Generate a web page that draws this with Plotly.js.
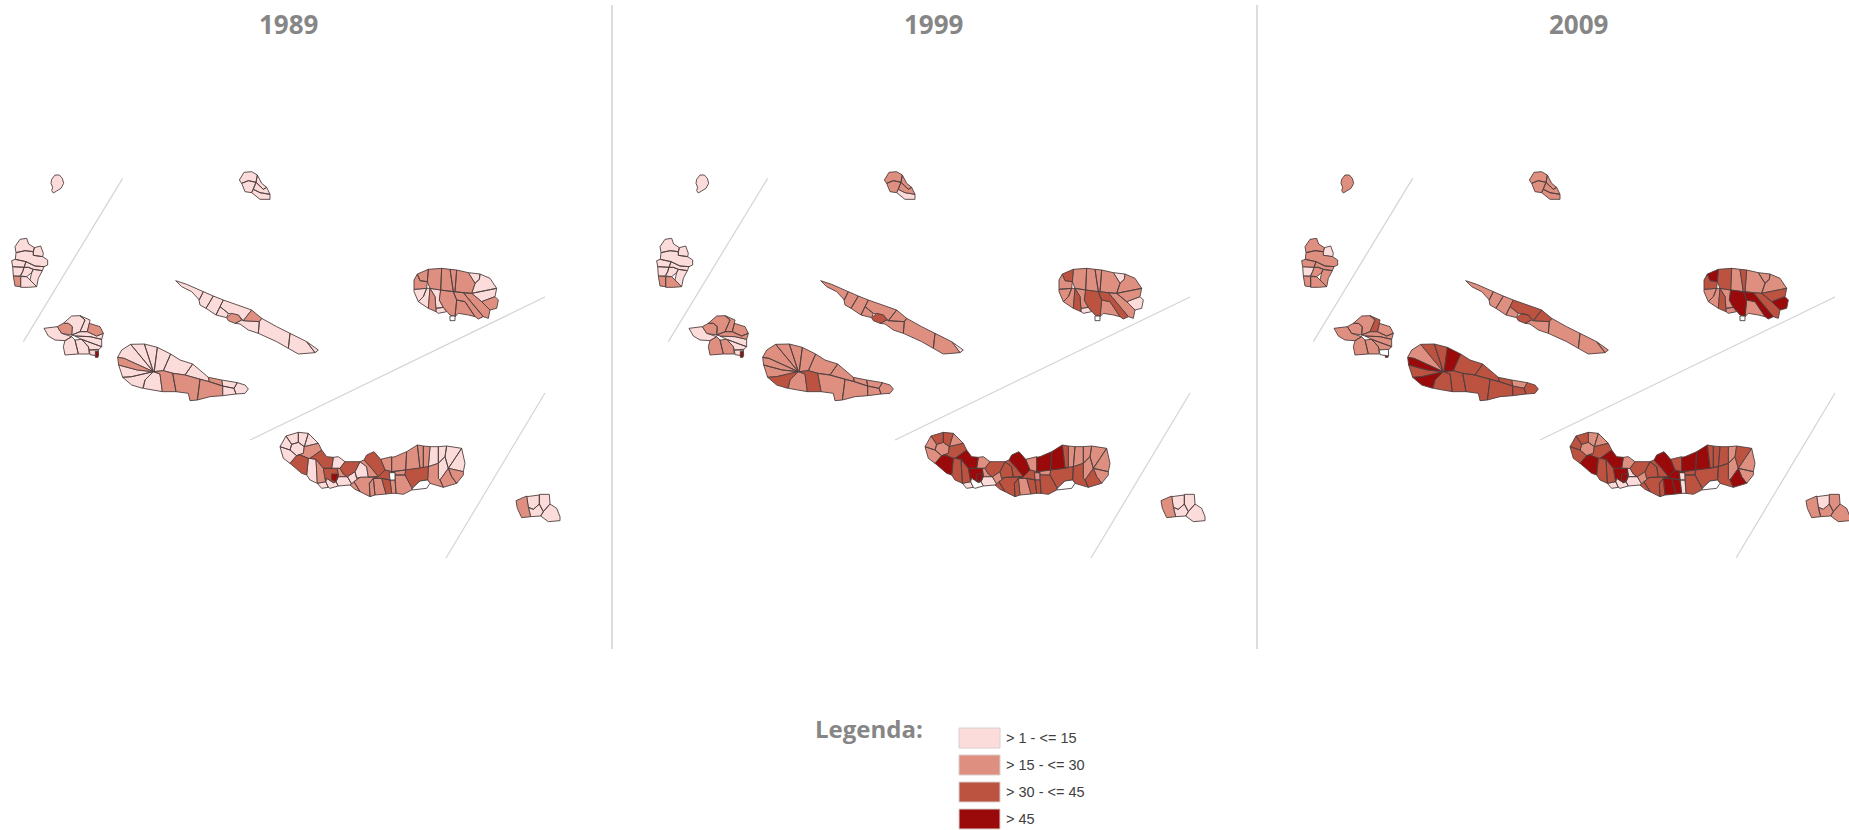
<!DOCTYPE html>
<html>
<head>
<meta charset="utf-8">
<script src="https://cdn.plot.ly/plotly-3.0.1.min.js"></script>
<style>html,body{margin:0;padding:0;background:#fff}#chart{width:1849px;height:830px}</style>
</head>
<body>
<div id="chart"></div>
<script>
// ---------- DATA ----------
const years = ['1989','1999','2009'];
const legendTitle = 'Legenda:';
const classLabels = ['> 1 - <= 15','> 15 - <= 30','> 30 - <= 45','> 45','sem dados'];
const classColors = ['#FBDCDA','#DF8F7F','#BB5340','#9A0A0A','#FFFFFF'];

// Map coordinates, per island group
const westOrigin = [0,450];
const terceiraOrigin = [1200,750];
const eastOrigin = [780,1200];

const corvoParishes = [
 [[155,88],[165,75],[178,75],[187,85],[191,100],[183,115],[170,123],[160,129],[155,122],[158,112],[153,100]]
];
const corvoClasses = [[0],[0],[1]];

const floresParishes = [
 [[45,290],[60,268],[80,265],[86,282],[103,293],[100,305],[75,302],[48,308]],
 [[103,293],[122,288],[130,310],[128,320],[100,316],[100,305]],
 [[48,308],[75,302],[100,305],[100,316],[128,320],[143,330],[143,345],[132,350],[105,348],[78,335],[46,328]],
 [[46,328],[78,335],[72,352],[38,350],[35,332]],
 [[78,335],[105,348],[132,350],[127,362],[100,358],[85,352],[72,352]],
 [[38,350],[72,352],[68,365],[60,378],[40,378]],
 [[72,352],[85,352],[100,358],[95,368],[80,380],[62,378],[68,365]],
 [[95,368],[100,358],[127,362],[115,385],[110,410],[90,390]],
 [[40,378],[62,380],[62,410],[45,408]],
 [[62,380],[80,380],[90,390],[110,410],[85,412],[62,412]]
];
const floresClasses = [
 [0,0,0,0,0,0,0,0,1,0],
 [0,0,0,0,0,0,0,0,1,1],
 [1,0,1,1,1,0,1,1,1,1]
];

const graciosaParishes = [
 [[718,90],[732,67],[755,65],[772,75],[768,97],[745,92],[725,100]],
 [[725,100],[745,92],[768,97],[760,118],[755,128],[735,125],[728,108]],
 [[772,75],[785,100],[800,112],[790,118],[768,97]],
 [[760,118],[768,97],[790,118],[800,112],[810,133],[780,128]],
 [[755,128],[760,118],[780,128],[810,133],[810,148],[780,148]]
];
const graciosaClasses = [[0,0,0,0,0],[1,1,1,1,0],[1,1,1,1,1]];

const faialParishes = [
 [[132,535],[172,530],[185,550],[215,560],[195,572],[165,570],[145,558]],
 [[172,530],[190,520],[205,520],[217,530],[215,555],[185,550]],
 [[190,520],[215,498],[240,497],[255,510],[240,545],[215,555],[217,530],[205,520]],
 [[240,497],[270,510],[268,520],[262,545],[240,545],[255,510]],
 [[268,520],[300,530],[310,550],[290,558],[262,545]],
 [[215,555],[240,545],[262,545],[290,558],[310,550],[305,568],[270,560],[225,558]],
 [[225,558],[270,560],[305,568],[305,590],[285,583],[245,568]],
 [[245,568],[285,583],[305,590],[295,600],[268,600],[265,590]],
 [[225,570],[245,568],[265,590],[268,612],[235,612]],
 [[195,572],[215,560],[225,570],[235,612],[195,615],[190,590]],
 [[268,600],[295,598],[296,618],[270,614]],
 [[286,604],[294,604],[294,622],[286,622]]
];
const faialClasses = [
 [0,1,0,0,1,0,0,0,0,0,0,3],
 [0,1,1,1,1,1,0,0,1,1,0,3],
 [1,1,1,2,1,1,1,1,1,1,4,3]
];

const picoParishes = [
 [[353,622],[372,625],[460,665],[412,660],[356,645]],
 [[353,622],[365,600],[392,583],[460,665],[372,625]],
 [[392,583],[433,582],[460,665]],
 [[433,582],[472,592],[463,665],[460,665]],
 [[472,592],[512,612],[490,662],[462,665]],
 [[512,612],[540,630],[578,642],[555,675],[520,670],[490,662]],
 [[578,642],[600,660],[625,682],[628,695],[600,688],[555,675]],
 [[356,645],[412,660],[460,665],[395,680],[368,682]],
 [[368,682],[395,680],[460,665],[435,690],[428,715],[395,705]],
 [[460,665],[480,672],[487,725],[430,715],[435,690]],
 [[462,665],[490,662],[518,670],[528,725],[487,725],[480,672]],
 [[518,670],[555,675],[600,688],[592,750],[570,752],[565,730],[528,725]],
 [[600,688],[628,695],[668,708],[668,737],[630,740],[592,750]],
 [[625,682],[665,690],[668,708],[628,695]],
 [[665,690],[712,698],[702,715],[668,708]],
 [[668,708],[702,715],[708,732],[668,737]],
 [[712,698],[735,705],[745,717],[735,730],[708,732],[702,715]]
];
const picoClasses = [
 [1,0,0,0,0,0,0,0,0,0,1,1,1,1,0,0,0],
 [1,1,1,1,1,1,1,1,2,1,2,1,1,1,1,1,1],
 [3,1,2,2,3,2,2,2,3,2,2,2,2,2,1,2,2]
];

const saoJorgeParishes = [
 [[527,392],[560,403],[610,425],[598,450],[575,425],[545,410]],
 [[610,425],[640,438],[618,475],[600,465],[597,450]],
 [[640,438],[670,450],[660,470],[648,495],[618,475]],
 [[670,450],[725,470],[755,480],[730,512],[715,495],[685,490],[660,470]],
 [[660,470],[685,490],[680,503],[648,495]],
 [[680,503],[695,490],[715,495],[725,510],[705,520],[685,512]],
 [[730,512],[755,480],[785,505],[778,515]],
 [[725,510],[730,512],[778,515],[775,550],[745,540],[720,522],[705,520]],
 [[778,515],[785,505],[830,530],[870,550],[865,595],[830,575],[775,550]],
 [[870,550],[920,575],[945,608],[895,612],[865,595]],
 [[920,575],[955,600],[945,608]]
];
const saoJorgeClasses = [
 [0,0,0,0,0,1,1,0,0,0,0],
 [1,1,1,1,1,2,1,1,1,1,0],
 [1,1,1,2,1,2,2,1,1,1,1]
];

const terceiraParishes = [
 [[52,72],[85,58],[82,95],[60,92]],
 [[42,90],[52,72],[60,92],[82,95],[80,115],[42,118]],
 [[85,58],[125,55],[122,120],[90,115],[82,95]],
 [[125,55],[150,58],[160,125],[122,120]],
 [[150,58],[170,60],[165,125],[160,125]],
 [[170,60],[205,68],[225,100],[215,130],[190,128],[165,125]],
 [[205,68],[240,72],[238,88],[225,100]],
 [[240,72],[270,85],[290,115],[240,125],[215,130],[225,100],[238,88]],
 [[215,130],[240,125],[290,115],[285,140],[245,155]],
 [[245,155],[285,140],[295,150],[290,175],[270,180]],
 [[42,118],[80,115],[70,140],[55,155],[42,125]],
 [[80,115],[90,115],[85,175],[55,155],[70,140]],
 [[90,115],[105,140],[108,185],[85,175]],
 [[90,115],[122,120],[118,150],[130,172],[108,175],[105,140]],
 [[122,120],[160,125],[170,150],[165,200],[150,195],[140,185],[130,172],[118,150]],
 [[160,125],[190,128],[250,200],[235,207],[225,200],[195,155],[170,150]],
 [[170,150],[195,155],[225,200],[205,195],[175,190],[165,200]],
 [[190,128],[215,130],[245,155],[270,180],[265,205],[250,200]],
 [[150,198],[165,198],[165,212],[150,212]],
 [[108,175],[130,172],[140,185],[115,190],[108,185]]
];
const terceiraClasses = [
 [1,1,1,1,1,1,0,0,0,1,0,0,1,0,1,1,1,1,4,0],
 [2,1,1,1,1,1,0,1,1,0,1,1,2,1,2,2,1,1,4,0],
 [3,2,2,1,2,1,1,1,2,3,1,1,2,1,3,3,1,2,4,1]
];

const saoMiguelParishes = [
 [[90,150],[95,133],[115,127],[133,140],[130,160],[110,167]],
 [[60,140],[78,108],[95,133],[90,150]],
 [[78,108],[115,97],[115,127],[95,133]],
 [[115,97],[145,100],[133,140],[115,127]],
 [[145,100],[175,130],[133,140]],
 [[70,175],[60,140],[90,150],[110,167],[90,190]],
 [[90,190],[110,167],[120,165],[145,175],[140,225],[125,220]],
 [[110,167],[130,160],[133,140],[175,130],[185,150],[150,175],[145,175],[120,165]],
 [[185,150],[200,170],[220,172],[215,205],[190,205],[168,178],[150,175]],
 [[145,175],[150,175],[168,178],[172,250],[150,240],[140,225]],
 [[168,178],[190,205],[197,245],[172,250]],
 [[190,205],[215,205],[232,205],[235,230],[228,245],[220,248],[200,235],[197,245]],
 [[215,222],[235,222],[228,245],[215,240]],
 [[220,172],[235,170],[255,185],[240,205],[232,205],[215,205]],
 [[172,250],[197,245],[205,262],[185,265]],
 [[200,235],[220,248],[228,245],[235,258],[210,265],[205,262],[197,245]],
 [[235,230],[262,230],[275,252],[270,255],[235,258],[228,245]],
 [[240,205],[255,185],[300,185],[285,215],[262,230],[250,222]],
 [[232,205],[240,205],[250,222],[262,230],[235,230]],
 [[285,215],[300,185],[320,200],[325,232],[300,232],[290,235]],
 [[262,230],[285,215],[290,235],[300,232],[282,245],[275,252]],
 [[300,232],[325,232],[355,230],[340,235],[328,250],[330,290],[300,275],[282,245]],
 [[312,180],[320,165],[342,155],[362,178],[375,210],[355,230],[335,205]],
 [[300,185],[312,180],[335,205],[355,230],[325,232],[320,200]],
 [[362,178],[395,170],[395,215],[375,210]],
 [[395,172],[405,170],[440,155],[437,210],[395,215]],
 [[440,155],[472,135],[480,205],[437,210]],
 [[472,135],[490,138],[490,203],[480,205]],
 [[490,138],[510,140],[505,200],[490,203]],
 [[510,140],[535,140],[535,190],[505,200]],
 [[535,140],[560,138],[555,170],[535,190]],
 [[560,138],[605,145],[585,175],[565,205],[555,170]],
 [[605,145],[615,190],[610,215],[565,205],[585,175]],
 [[565,205],[610,215],[610,225],[590,250],[575,230]],
 [[540,240],[565,205],[575,230],[590,250],[550,262]],
 [[535,190],[555,170],[565,205],[540,240],[535,235]],
 [[505,200],[535,190],[535,235],[540,240],[550,262],[510,250],[503,240]],
 [[437,210],[480,205],[505,200],[503,240],[480,242],[460,262],[455,262],[435,225]],
 [[460,262],[480,243],[503,240],[510,250],[500,265],[475,268],[455,270]],
 [[405,225],[435,225],[455,262],[455,270],[430,283],[408,280]],
 [[388,218],[405,218],[405,240],[390,240]],
 [[405,240],[408,280],[395,280],[390,240]],
 [[365,235],[390,240],[395,280],[378,282]],
 [[340,235],[365,235],[378,282],[345,285]],
 [[328,250],[340,235],[345,285],[330,290]],
 [[355,230],[375,210],[395,215],[405,218],[388,218],[390,240],[365,235],[340,235]],
 [[395,215],[437,210],[435,225],[405,225],[405,218]],
 [[275,252],[282,245],[300,275],[285,268],[270,255]]
];
const saoMiguelClasses = [
 [0,0,0,0,0,0,2,1,2,0,1,2,3,0,0,0,0,2,1,0,0,1,2,1,1,1,1,1,1,0,0,0,0,1,1,0,1,2,4,1,4,1,2,1,1,2,1,1],
 [1,1,2,2,1,1,3,2,3,2,2,3,3,1,0,4,0,2,1,2,1,2,3,2,1,3,3,2,1,1,1,1,1,1,2,1,2,2,4,2,1,2,2,1,2,2,1,2],
 [1,2,2,1,1,2,3,2,3,2,2,3,3,1,0,0,0,2,0,2,1,2,3,2,2,3,3,2,2,2,1,2,1,1,3,1,2,2,4,2,0,0,3,3,2,3,2,2]
];

const santaMariaParishes = [
 [[768,302],[800,288],[805,322],[812,350],[785,353],[772,325]],
 [[800,290],[838,285],[838,312],[820,328],[805,322]],
 [[838,283],[868,283],[870,312],[850,335],[838,312]],
 [[805,322],[820,328],[838,312],[850,335],[842,348],[812,350]],
 [[850,335],[870,312],[890,325],[900,350],[900,362],[865,365],[842,348]]
];
const santaMariaClasses = [[1,0,0,0,0],[1,0,0,0,0],[1,0,1,1,1]];

const separatorLines = [
 [[368,535],[70,1025]],
 [[750,1320],[1635,891]],
 [[1635,1179],[1338,1674]]
];

// ---------- BUILD ----------
const islands = [
 [corvoParishes,corvoClasses,westOrigin],
 [floresParishes,floresClasses,westOrigin],
 [graciosaParishes,graciosaClasses,westOrigin],
 [faialParishes,faialClasses,westOrigin],
 [picoParishes,picoClasses,westOrigin],
 [saoJorgeParishes,saoJorgeClasses,westOrigin],
 [terceiraParishes,terceiraClasses,terceiraOrigin],
 [saoMiguelParishes,saoMiguelClasses,eastOrigin],
 [santaMariaParishes,santaMariaClasses,eastOrigin]
];
const W = 1849, H = 830, panelW = 645;
const traces = [];
years.forEach((yr, yi) => {
  const axisSuffix = yi === 0 ? '' : String(yi + 1);
  const seps = {x:[], y:[]};
  separatorLines.forEach(l => {
    l.forEach(p => { seps.x.push(p[0]); seps.y.push(p[1]); });
    seps.x.push(null); seps.y.push(null);
  });
  traces.push({type:'scatter',mode:'lines',x:seps.x,y:seps.y,xaxis:'x'+axisSuffix,yaxis:'y'+axisSuffix,
    line:{color:'#d4d4d4',width:1.2},hoverinfo:'skip',showlegend:false});
  classColors.forEach((color, ci) => {
    const xs = [], ys = [];
    islands.forEach(([parishes, classes, origin]) => {
      parishes.forEach((poly, pi) => {
        if (classes[yi][pi] !== ci) return;
        poly.forEach(p => { xs.push(p[0] + origin[0]); ys.push(p[1] + origin[1]); });
        xs.push(poly[0][0] + origin[0]); ys.push(poly[0][1] + origin[1]);
        xs.push(null); ys.push(null);
      });
    });
    if (xs.length) traces.push({type:'scatter',mode:'lines',x:xs,y:ys,fill:'toself',fillcolor:color,
      xaxis:'x'+axisSuffix,yaxis:'y'+axisSuffix,name:yr+': '+classLabels[ci],
      line:{color:'#4f4040',width:0.9},hoverinfo:'name',showlegend:false});
  });
});

const axisBase = {visible:false,showgrid:false,zeroline:false,fixedrange:true};
const layout = {
  width:W,height:H,margin:{l:0,r:0,t:0,b:0},paper_bgcolor:'#fff',plot_bgcolor:'#fff',showlegend:false,
  xaxis:{...axisBase,domain:[0,panelW/W],range:[0,panelW*3]},
  yaxis:{...axisBase,domain:[0,1],range:[H*3,0]},
  xaxis2:{...axisBase,domain:[panelW/W,2*panelW/W],range:[0,panelW*3]},
  yaxis2:{...axisBase,domain:[0,1],range:[H*3,0],anchor:'x2'},
  xaxis3:{...axisBase,domain:[2*panelW/W,1],range:[0,(W-2*panelW)*3]},
  yaxis3:{...axisBase,domain:[0,1],range:[H*3,0],anchor:'x3'},
  shapes:[],annotations:[]
};
const px = x => x/W, py = y => 1-y/H;
[612,1257].forEach(x => layout.shapes.push({type:'line',xref:'paper',yref:'paper',x0:px(x),x1:px(x),y0:py(5),y1:py(649),line:{color:'#d2d2d2',width:1.5}}));
years.forEach((yr,i) => layout.annotations.push({xref:'paper',yref:'paper',x:px(288.5+i*645),y:py(24),text:'<b>'+yr+'</b>',showarrow:false,xanchor:'center',yanchor:'middle',font:{family:'Open Sans',size:26,color:'#868686'}}));
layout.annotations.push({xref:'paper',yref:'paper',x:px(868.5),y:py(728),text:'<b>'+legendTitle+'</b>',showarrow:false,xanchor:'center',yanchor:'middle',font:{family:'Open Sans',size:24,color:'#868686'}});
classLabels.slice(0,4).forEach((lab,i) => {
  const y = 738 + i*27;
  layout.shapes.push({type:'rect',xref:'paper',yref:'paper',x0:px(959),x1:px(1000),y0:py(y-10),y1:py(y+10),fillcolor:classColors[i],line:{color:'#d8d0ce',width:1}});
  layout.annotations.push({xref:'paper',yref:'paper',x:px(1004),y:py(y),text:lab.replace(/</g,'&lt;'),showarrow:false,xanchor:'left',yanchor:'middle',font:{family:'Liberation Sans',size:14.5,color:'#404040'}});
});
Plotly.newPlot('chart',traces,layout,{displayModeBar:false,responsive:false,staticPlot:true});
</script>
</body>
</html>
